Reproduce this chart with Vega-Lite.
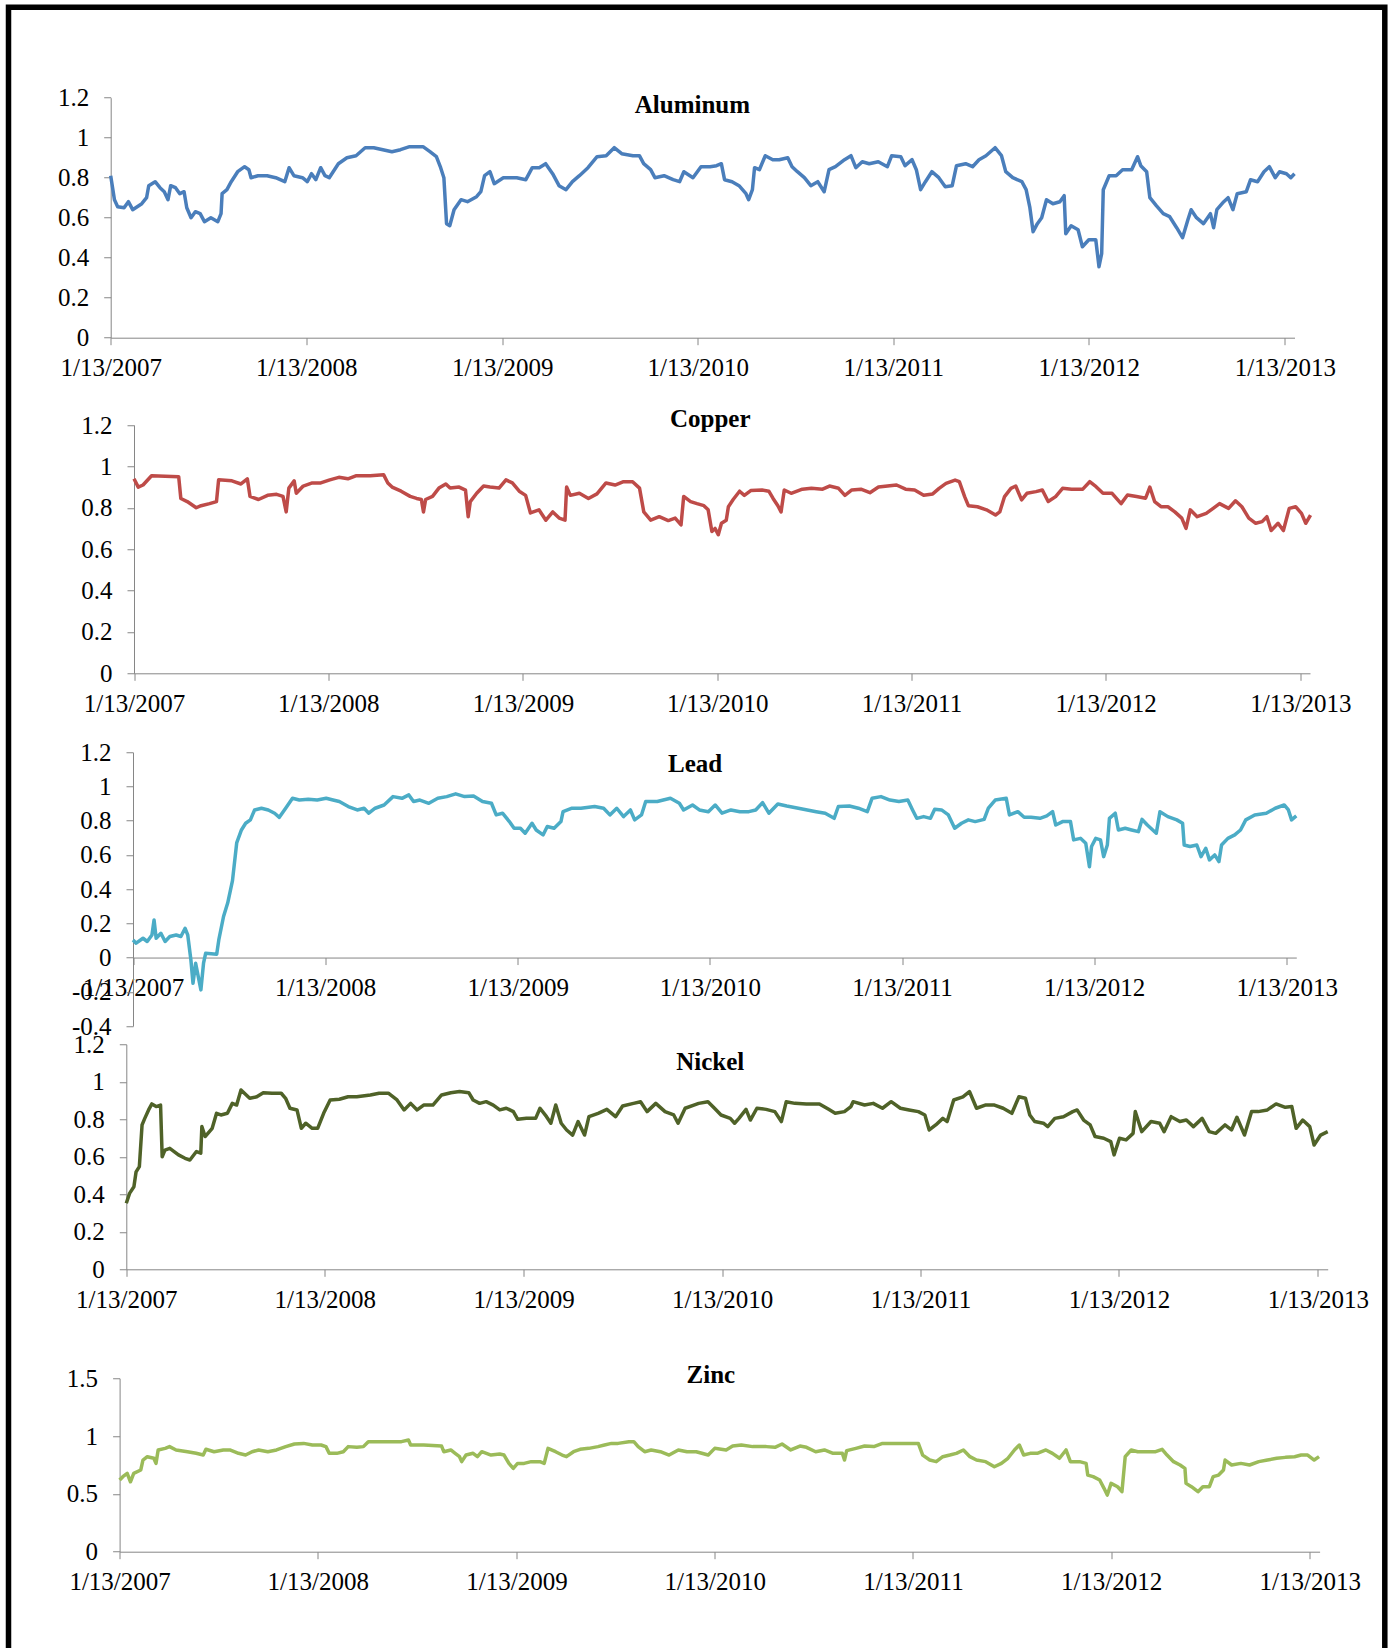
{
  "$schema": "https://vega.github.io/schema/vega-lite/v6.json",
  "autosize": "none",
  "width": 1376.3,
  "height": 1652.75,
  "padding": {"left": 8.5, "top": 7.25, "right": 8.2, "bottom": -12},
  "background": "white",
  "config": {
    "view": {"stroke": "#000000", "strokeWidth": 5.5, "fill": "white"},
    "axis": {"grid": false, "domainColor": "#868686", "domainWidth": 1, "tickColor": "#868686", "tickSize": 7, "tickWidth": 1, "labelFont": "Liberation Serif", "labelFontSize": 25, "labelColor": "#000000", "labelOverlap": false},
    "axisX": {"labelPadding": 11, "labelFont": "Liberation Serif", "labelFontSize": 25, "labelFlush": false},
    "axisY": {"labelPadding": 15, "labelFont": "Liberation Serif", "labelFontSize": 25},
    "style": {"guide-label": {"font": "Liberation Serif", "fontSize": 25, "fill": "#000000"}}
  },
  "datasets": {
    "aluminum": [
      {"d":"2007-01-13","v":0.81},{"d":"2007-01-20","v":0.69},{"d":"2007-01-26","v":0.655},{"d":"2007-02-07","v":0.65},{"d":"2007-02-15","v":0.68},{"d":"2007-02-23","v":0.64},{"d":"2007-03-12","v":0.67},{"d":"2007-03-21","v":0.70},{"d":"2007-03-25","v":0.76},{"d":"2007-04-06","v":0.78},{"d":"2007-04-15","v":0.75},{"d":"2007-04-23","v":0.73},{"d":"2007-04-30","v":0.69},{"d":"2007-05-05","v":0.76},{"d":"2007-05-14","v":0.75},{"d":"2007-05-22","v":0.72},{"d":"2007-05-30","v":0.73},{"d":"2007-06-04","v":0.65},{"d":"2007-06-12","v":0.60},{"d":"2007-06-20","v":0.63},{"d":"2007-06-29","v":0.62},{"d":"2007-07-07","v":0.58},{"d":"2007-07-19","v":0.60},{"d":"2007-08-01","v":0.58},{"d":"2007-08-07","v":0.62},{"d":"2007-08-09","v":0.72},{"d":"2007-08-18","v":0.74},{"d":"2007-08-26","v":0.78},{"d":"2007-09-07","v":0.83},{"d":"2007-09-20","v":0.855},{"d":"2007-09-28","v":0.84},{"d":"2007-10-02","v":0.80},{"d":"2007-10-15","v":0.81},{"d":"2007-11-01","v":0.81},{"d":"2007-11-17","v":0.80},{"d":"2007-12-04","v":0.78},{"d":"2007-12-12","v":0.85},{"d":"2007-12-21","v":0.81},{"d":"2008-01-06","v":0.80},{"d":"2008-01-15","v":0.78},{"d":"2008-01-23","v":0.82},{"d":"2008-01-31","v":0.79},{"d":"2008-02-09","v":0.85},{"d":"2008-02-17","v":0.81},{"d":"2008-02-25","v":0.80},{"d":"2008-03-13","v":0.87},{"d":"2008-03-29","v":0.90},{"d":"2008-04-15","v":0.91},{"d":"2008-05-02","v":0.95},{"d":"2008-05-18","v":0.95},{"d":"2008-06-04","v":0.94},{"d":"2008-06-21","v":0.93},{"d":"2008-07-07","v":0.94},{"d":"2008-07-24","v":0.955},{"d":"2008-08-18","v":0.955},{"d":"2008-08-31","v":0.93},{"d":"2008-09-12","v":0.905},{"d":"2008-09-20","v":0.85},{"d":"2008-09-26","v":0.80},{"d":"2008-10-01","v":0.57},{"d":"2008-10-07","v":0.56},{"d":"2008-10-15","v":0.64},{"d":"2008-10-28","v":0.69},{"d":"2008-11-09","v":0.68},{"d":"2008-11-26","v":0.705},{"d":"2008-12-04","v":0.73},{"d":"2008-12-11","v":0.81},{"d":"2008-12-21","v":0.83},{"d":"2008-12-29","v":0.77},{"d":"2009-01-15","v":0.80},{"d":"2009-02-09","v":0.80},{"d":"2009-02-26","v":0.79},{"d":"2009-03-10","v":0.85},{"d":"2009-03-23","v":0.85},{"d":"2009-04-04","v":0.87},{"d":"2009-04-17","v":0.82},{"d":"2009-04-29","v":0.76},{"d":"2009-05-12","v":0.74},{"d":"2009-05-24","v":0.78},{"d":"2009-06-06","v":0.81},{"d":"2009-06-22","v":0.85},{"d":"2009-07-09","v":0.905},{"d":"2009-07-26","v":0.91},{"d":"2009-08-10","v":0.95},{"d":"2009-08-24","v":0.92},{"d":"2009-09-14","v":0.91},{"d":"2009-09-26","v":0.91},{"d":"2009-10-04","v":0.87},{"d":"2009-10-17","v":0.84},{"d":"2009-10-25","v":0.80},{"d":"2009-11-11","v":0.81},{"d":"2009-11-28","v":0.79},{"d":"2009-12-10","v":0.78},{"d":"2009-12-18","v":0.83},{"d":"2010-01-04","v":0.80},{"d":"2010-01-19","v":0.855},{"d":"2010-02-05","v":0.855},{"d":"2010-02-17","v":0.86},{"d":"2010-02-26","v":0.87},{"d":"2010-03-04","v":0.79},{"d":"2010-03-18","v":0.78},{"d":"2010-03-31","v":0.76},{"d":"2010-04-13","v":0.72},{"d":"2010-04-18","v":0.69},{"d":"2010-04-25","v":0.74},{"d":"2010-04-29","v":0.85},{"d":"2010-05-08","v":0.84},{"d":"2010-05-19","v":0.91},{"d":"2010-06-02","v":0.89},{"d":"2010-06-14","v":0.89},{"d":"2010-06-30","v":0.90},{"d":"2010-07-08","v":0.855},{"d":"2010-07-18","v":0.83},{"d":"2010-07-31","v":0.80},{"d":"2010-08-12","v":0.76},{"d":"2010-08-25","v":0.78},{"d":"2010-09-06","v":0.73},{"d":"2010-09-15","v":0.84},{"d":"2010-09-27","v":0.855},{"d":"2010-10-14","v":0.89},{"d":"2010-10-26","v":0.91},{"d":"2010-11-04","v":0.85},{"d":"2010-11-16","v":0.88},{"d":"2010-11-29","v":0.87},{"d":"2010-12-16","v":0.88},{"d":"2011-01-02","v":0.855},{"d":"2011-01-10","v":0.91},{"d":"2011-01-27","v":0.905},{"d":"2011-02-04","v":0.86},{"d":"2011-02-17","v":0.89},{"d":"2011-02-25","v":0.84},{"d":"2011-03-05","v":0.74},{"d":"2011-03-14","v":0.78},{"d":"2011-03-26","v":0.83},{"d":"2011-04-08","v":0.80},{"d":"2011-04-20","v":0.755},{"d":"2011-05-03","v":0.76},{"d":"2011-05-11","v":0.86},{"d":"2011-05-28","v":0.87},{"d":"2011-06-10","v":0.855},{"d":"2011-06-22","v":0.89},{"d":"2011-07-05","v":0.91},{"d":"2011-07-22","v":0.95},{"d":"2011-08-03","v":0.91},{"d":"2011-08-11","v":0.83},{"d":"2011-08-24","v":0.80},{"d":"2011-09-10","v":0.78},{"d":"2011-09-18","v":0.74},{"d":"2011-09-25","v":0.65},{"d":"2011-10-01","v":0.53},{"d":"2011-10-09","v":0.57},{"d":"2011-10-17","v":0.60},{"d":"2011-10-26","v":0.69},{"d":"2011-11-07","v":0.67},{"d":"2011-11-20","v":0.68},{"d":"2011-11-28","v":0.71},{"d":"2011-12-01","v":0.52},{"d":"2011-12-11","v":0.56},{"d":"2011-12-24","v":0.54},{"d":"2012-01-01","v":0.455},{"d":"2012-01-13","v":0.49},{"d":"2012-01-26","v":0.49},{"d":"2012-02-01","v":0.355},{"d":"2012-02-06","v":0.42},{"d":"2012-02-09","v":0.74},{"d":"2012-02-20","v":0.81},{"d":"2012-03-04","v":0.81},{"d":"2012-03-16","v":0.84},{"d":"2012-04-02","v":0.84},{"d":"2012-04-13","v":0.905},{"d":"2012-04-19","v":0.86},{"d":"2012-04-30","v":0.83},{"d":"2012-05-06","v":0.70},{"d":"2012-05-18","v":0.66},{"d":"2012-05-31","v":0.62},{"d":"2012-06-12","v":0.605},{"d":"2012-06-25","v":0.55},{"d":"2012-07-06","v":0.50},{"d":"2012-07-16","v":0.59},{"d":"2012-07-22","v":0.64},{"d":"2012-08-01","v":0.60},{"d":"2012-08-14","v":0.57},{"d":"2012-08-27","v":0.62},{"d":"2012-09-02","v":0.55},{"d":"2012-09-08","v":0.64},{"d":"2012-09-21","v":0.68},{"d":"2012-09-29","v":0.70},{"d":"2012-10-08","v":0.64},{"d":"2012-10-16","v":0.72},{"d":"2012-11-02","v":0.73},{"d":"2012-11-10","v":0.79},{"d":"2012-11-23","v":0.78},{"d":"2012-12-05","v":0.83},{"d":"2012-12-15","v":0.855},{"d":"2012-12-26","v":0.80},{"d":"2013-01-03","v":0.83},{"d":"2013-01-16","v":0.82},{"d":"2013-01-24","v":0.80},{"d":"2013-01-31","v":0.82}
    ],
    "copper": [
      {"d":"2007-01-13","v":0.94},{"d":"2007-01-21","v":0.90},{"d":"2007-01-30","v":0.91},{"d":"2007-02-15","v":0.955},{"d":"2007-04-07","v":0.95},{"d":"2007-04-11","v":0.845},{"d":"2007-04-23","v":0.83},{"d":"2007-05-10","v":0.80},{"d":"2007-05-19","v":0.81},{"d":"2007-06-04","v":0.82},{"d":"2007-06-17","v":0.83},{"d":"2007-06-21","v":0.935},{"d":"2007-07-16","v":0.93},{"d":"2007-08-02","v":0.915},{"d":"2007-08-14","v":0.94},{"d":"2007-08-19","v":0.855},{"d":"2007-09-04","v":0.84},{"d":"2007-09-21","v":0.86},{"d":"2007-10-08","v":0.865},{"d":"2007-10-20","v":0.855},{"d":"2007-10-26","v":0.78},{"d":"2007-10-31","v":0.895},{"d":"2007-11-10","v":0.93},{"d":"2007-11-14","v":0.87},{"d":"2007-11-27","v":0.905},{"d":"2007-12-14","v":0.92},{"d":"2007-12-30","v":0.92},{"d":"2008-01-16","v":0.935},{"d":"2008-02-02","v":0.947},{"d":"2008-02-19","v":0.94},{"d":"2008-03-06","v":0.955},{"d":"2008-04-01","v":0.955},{"d":"2008-04-26","v":0.96},{"d":"2008-05-04","v":0.92},{"d":"2008-05-12","v":0.90},{"d":"2008-05-29","v":0.88},{"d":"2008-06-15","v":0.855},{"d":"2008-06-27","v":0.845},{"d":"2008-07-06","v":0.84},{"d":"2008-07-10","v":0.78},{"d":"2008-07-14","v":0.84},{"d":"2008-07-27","v":0.855},{"d":"2008-08-08","v":0.895},{"d":"2008-08-21","v":0.915},{"d":"2008-08-29","v":0.895},{"d":"2008-09-15","v":0.90},{"d":"2008-09-27","v":0.885},{"d":"2008-10-02","v":0.757},{"d":"2008-10-06","v":0.83},{"d":"2008-10-18","v":0.87},{"d":"2008-10-31","v":0.905},{"d":"2008-11-12","v":0.90},{"d":"2008-11-29","v":0.895},{"d":"2008-12-12","v":0.935},{"d":"2008-12-24","v":0.92},{"d":"2009-01-06","v":0.88},{"d":"2009-01-18","v":0.86},{"d":"2009-01-27","v":0.775},{"d":"2009-02-12","v":0.79},{"d":"2009-02-25","v":0.74},{"d":"2009-03-10","v":0.78},{"d":"2009-03-22","v":0.75},{"d":"2009-04-02","v":0.74},{"d":"2009-04-05","v":0.90},{"d":"2009-04-12","v":0.86},{"d":"2009-04-29","v":0.87},{"d":"2009-05-16","v":0.845},{"d":"2009-06-01","v":0.867},{"d":"2009-06-18","v":0.92},{"d":"2009-07-05","v":0.91},{"d":"2009-07-21","v":0.926},{"d":"2009-08-07","v":0.926},{"d":"2009-08-20","v":0.895},{"d":"2009-08-28","v":0.78},{"d":"2009-09-10","v":0.74},{"d":"2009-09-26","v":0.757},{"d":"2009-10-13","v":0.738},{"d":"2009-10-26","v":0.75},{"d":"2009-11-06","v":0.717},{"d":"2009-11-11","v":0.855},{"d":"2009-11-24","v":0.83},{"d":"2009-12-06","v":0.82},{"d":"2009-12-19","v":0.81},{"d":"2009-12-27","v":0.79},{"d":"2010-01-03","v":0.685},{"d":"2010-01-09","v":0.70},{"d":"2010-01-15","v":0.67},{"d":"2010-01-21","v":0.725},{"d":"2010-01-30","v":0.74},{"d":"2010-02-03","v":0.805},{"d":"2010-02-12","v":0.84},{"d":"2010-02-24","v":0.88},{"d":"2010-03-05","v":0.86},{"d":"2010-03-17","v":0.883},{"d":"2010-04-07","v":0.886},{"d":"2010-04-20","v":0.88},{"d":"2010-04-28","v":0.845},{"d":"2010-05-07","v":0.81},{"d":"2010-05-13","v":0.78},{"d":"2010-05-19","v":0.886},{"d":"2010-06-01","v":0.87},{"d":"2010-06-22","v":0.89},{"d":"2010-07-09","v":0.894},{"d":"2010-07-30","v":0.89},{"d":"2010-08-12","v":0.905},{"d":"2010-08-29","v":0.894},{"d":"2010-09-10","v":0.86},{"d":"2010-09-23","v":0.886},{"d":"2010-10-10","v":0.89},{"d":"2010-10-27","v":0.873},{"d":"2010-11-12","v":0.90},{"d":"2010-11-29","v":0.905},{"d":"2010-12-16","v":0.91},{"d":"2011-01-02","v":0.89},{"d":"2011-01-19","v":0.886},{"d":"2011-02-05","v":0.86},{"d":"2011-02-22","v":0.867},{"d":"2011-03-06","v":0.894},{"d":"2011-03-19","v":0.918},{"d":"2011-04-05","v":0.934},{"d":"2011-04-13","v":0.926},{"d":"2011-04-23","v":0.854},{"d":"2011-04-30","v":0.81},{"d":"2011-05-17","v":0.805},{"d":"2011-06-03","v":0.79},{"d":"2011-06-20","v":0.765},{"d":"2011-06-28","v":0.78},{"d":"2011-07-07","v":0.854},{"d":"2011-07-19","v":0.894},{"d":"2011-07-28","v":0.905},{"d":"2011-08-08","v":0.838},{"d":"2011-08-18","v":0.87},{"d":"2011-09-04","v":0.878},{"d":"2011-09-16","v":0.886},{"d":"2011-09-27","v":0.83},{"d":"2011-10-11","v":0.854},{"d":"2011-10-24","v":0.894},{"d":"2011-11-10","v":0.89},{"d":"2011-12-01","v":0.89},{"d":"2011-12-14","v":0.926},{"d":"2011-12-26","v":0.902},{"d":"2012-01-08","v":0.87},{"d":"2012-01-25","v":0.87},{"d":"2012-02-11","v":0.82},{"d":"2012-02-23","v":0.862},{"d":"2012-03-11","v":0.854},{"d":"2012-03-28","v":0.846},{"d":"2012-04-05","v":0.90},{"d":"2012-04-14","v":0.83},{"d":"2012-04-26","v":0.805},{"d":"2012-05-09","v":0.805},{"d":"2012-05-22","v":0.78},{"d":"2012-06-04","v":0.75},{"d":"2012-06-12","v":0.70},{"d":"2012-06-20","v":0.79},{"d":"2012-07-03","v":0.757},{"d":"2012-07-20","v":0.773},{"d":"2012-08-02","v":0.797},{"d":"2012-08-14","v":0.82},{"d":"2012-08-31","v":0.797},{"d":"2012-09-13","v":0.834},{"d":"2012-09-25","v":0.805},{"d":"2012-10-08","v":0.75},{"d":"2012-10-21","v":0.725},{"d":"2012-11-02","v":0.733},{"d":"2012-11-11","v":0.757},{"d":"2012-11-19","v":0.69},{"d":"2012-12-02","v":0.725},{"d":"2012-12-12","v":0.69},{"d":"2012-12-23","v":0.797},{"d":"2013-01-04","v":0.805},{"d":"2013-01-15","v":0.773},{"d":"2013-01-23","v":0.725},{"d":"2013-02-01","v":0.765}
    ],
    "lead": [
      {"d":"2007-01-13","v":0.103},{"d":"2007-01-19","v":0.084},{"d":"2007-02-01","v":0.113},{"d":"2007-02-09","v":0.094},{"d":"2007-02-18","v":0.132},{"d":"2007-02-22","v":0.22},{"d":"2007-02-26","v":0.113},{"d":"2007-03-07","v":0.142},{"d":"2007-03-15","v":0.094},{"d":"2007-03-24","v":0.123},{"d":"2007-04-05","v":0.132},{"d":"2007-04-14","v":0.123},{"d":"2007-04-22","v":0.171},{"d":"2007-04-27","v":0.132},{"d":"2007-05-03","v":-0.014},{"d":"2007-05-07","v":-0.15},{"d":"2007-05-12","v":-0.033},{"d":"2007-05-17","v":-0.111},{"d":"2007-05-22","v":-0.189},{"d":"2007-05-27","v":-0.033},{"d":"2007-05-31","v":0.025},{"d":"2007-06-21","v":0.02},{"d":"2007-06-25","v":0.103},{"d":"2007-07-04","v":0.24},{"d":"2007-07-12","v":0.32},{"d":"2007-07-21","v":0.45},{"d":"2007-07-29","v":0.67},{"d":"2007-08-07","v":0.746},{"d":"2007-08-15","v":0.785},{"d":"2007-08-24","v":0.805},{"d":"2007-09-01","v":0.863},{"d":"2007-09-14","v":0.873},{"d":"2007-09-27","v":0.863},{"d":"2007-10-09","v":0.844},{"d":"2007-10-18","v":0.82},{"d":"2007-10-30","v":0.873},{"d":"2007-11-12","v":0.931},{"d":"2007-11-25","v":0.921},{"d":"2007-12-12","v":0.925},{"d":"2007-12-29","v":0.921},{"d":"2008-01-15","v":0.931},{"d":"2008-01-28","v":0.921},{"d":"2008-02-09","v":0.912},{"d":"2008-02-26","v":0.883},{"d":"2008-03-14","v":0.863},{"d":"2008-03-27","v":0.873},{"d":"2008-04-05","v":0.844},{"d":"2008-04-17","v":0.873},{"d":"2008-05-04","v":0.892},{"d":"2008-05-21","v":0.941},{"d":"2008-06-07","v":0.931},{"d":"2008-06-20","v":0.951},{"d":"2008-06-29","v":0.912},{"d":"2008-07-11","v":0.921},{"d":"2008-07-28","v":0.902},{"d":"2008-08-14","v":0.931},{"d":"2008-08-31","v":0.941},{"d":"2008-09-17","v":0.957},{"d":"2008-10-04","v":0.941},{"d":"2008-10-21","v":0.945},{"d":"2008-11-07","v":0.912},{"d":"2008-11-24","v":0.902},{"d":"2008-12-03","v":0.834},{"d":"2008-12-15","v":0.844},{"d":"2008-12-28","v":0.795},{"d":"2009-01-06","v":0.756},{"d":"2009-01-18","v":0.756},{"d":"2009-01-27","v":0.727},{"d":"2009-02-09","v":0.785},{"d":"2009-02-17","v":0.746},{"d":"2009-03-02","v":0.717},{"d":"2009-03-10","v":0.766},{"d":"2009-03-23","v":0.756},{"d":"2009-04-05","v":0.795},{"d":"2009-04-09","v":0.853},{"d":"2009-04-26","v":0.873},{"d":"2009-05-13","v":0.873},{"d":"2009-06-08","v":0.883},{"d":"2009-06-25","v":0.873},{"d":"2009-07-07","v":0.834},{"d":"2009-07-20","v":0.873},{"d":"2009-08-02","v":0.824},{"d":"2009-08-15","v":0.863},{"d":"2009-08-23","v":0.805},{"d":"2009-09-05","v":0.834},{"d":"2009-09-13","v":0.912},{"d":"2009-10-05","v":0.912},{"d":"2009-10-30","v":0.931},{"d":"2009-11-16","v":0.902},{"d":"2009-11-24","v":0.863},{"d":"2009-12-11","v":0.892},{"d":"2009-12-24","v":0.863},{"d":"2010-01-10","v":0.853},{"d":"2010-01-23","v":0.892},{"d":"2010-02-05","v":0.844},{"d":"2010-02-22","v":0.863},{"d":"2010-03-11","v":0.853},{"d":"2010-03-28","v":0.853},{"d":"2010-04-10","v":0.863},{"d":"2010-04-23","v":0.906},{"d":"2010-05-05","v":0.844},{"d":"2010-05-22","v":0.898},{"d":"2010-06-08","v":0.886},{"d":"2010-06-30","v":0.873},{"d":"2010-07-17","v":0.863},{"d":"2010-08-03","v":0.853},{"d":"2010-08-20","v":0.844},{"d":"2010-09-06","v":0.814},{"d":"2010-09-14","v":0.883},{"d":"2010-10-05","v":0.886},{"d":"2010-10-22","v":0.873},{"d":"2010-11-08","v":0.853},{"d":"2010-11-17","v":0.931},{"d":"2010-12-04","v":0.941},{"d":"2010-12-21","v":0.921},{"d":"2011-01-07","v":0.912},{"d":"2011-01-24","v":0.921},{"d":"2011-02-02","v":0.863},{"d":"2011-02-10","v":0.814},{"d":"2011-02-23","v":0.824},{"d":"2011-03-08","v":0.814},{"d":"2011-03-16","v":0.867},{"d":"2011-03-29","v":0.863},{"d":"2011-04-11","v":0.834},{"d":"2011-04-23","v":0.756},{"d":"2011-05-06","v":0.785},{"d":"2011-05-19","v":0.805},{"d":"2011-06-01","v":0.795},{"d":"2011-06-18","v":0.808},{"d":"2011-06-26","v":0.873},{"d":"2011-07-09","v":0.921},{"d":"2011-07-30","v":0.931},{"d":"2011-08-05","v":0.834},{"d":"2011-08-21","v":0.853},{"d":"2011-09-02","v":0.82},{"d":"2011-09-15","v":0.82},{"d":"2011-10-02","v":0.814},{"d":"2011-10-15","v":0.828},{"d":"2011-10-26","v":0.853},{"d":"2011-11-01","v":0.775},{"d":"2011-11-14","v":0.795},{"d":"2011-11-29","v":0.795},{"d":"2011-12-05","v":0.688},{"d":"2011-12-18","v":0.697},{"d":"2011-12-28","v":0.668},{"d":"2012-01-04","v":0.531},{"d":"2012-01-08","v":0.649},{"d":"2012-01-16","v":0.697},{"d":"2012-01-25","v":0.688},{"d":"2012-01-31","v":0.59},{"d":"2012-02-07","v":0.658},{"d":"2012-02-11","v":0.814},{"d":"2012-02-22","v":0.844},{"d":"2012-02-28","v":0.746},{"d":"2012-03-12","v":0.756},{"d":"2012-03-24","v":0.746},{"d":"2012-04-06","v":0.736},{"d":"2012-04-13","v":0.808},{"d":"2012-04-23","v":0.775},{"d":"2012-05-10","v":0.727},{"d":"2012-05-17","v":0.853},{"d":"2012-06-01","v":0.824},{"d":"2012-06-18","v":0.805},{"d":"2012-06-29","v":0.785},{"d":"2012-07-02","v":0.658},{"d":"2012-07-13","v":0.649},{"d":"2012-07-26","v":0.658},{"d":"2012-08-03","v":0.59},{"d":"2012-08-12","v":0.639},{"d":"2012-08-19","v":0.571},{"d":"2012-08-29","v":0.60},{"d":"2012-09-06","v":0.561},{"d":"2012-09-11","v":0.658},{"d":"2012-09-23","v":0.697},{"d":"2012-10-06","v":0.717},{"d":"2012-10-17","v":0.746},{"d":"2012-10-27","v":0.805},{"d":"2012-11-13","v":0.834},{"d":"2012-12-05","v":0.844},{"d":"2012-12-22","v":0.873},{"d":"2013-01-08","v":0.892},{"d":"2013-01-16","v":0.863},{"d":"2013-01-22","v":0.805},{"d":"2013-01-31","v":0.828}
    ],
    "nickel": [
      {"d":"2007-01-13","v":0.352},{"d":"2007-01-19","v":0.405},{"d":"2007-01-27","v":0.44},{"d":"2007-01-31","v":0.52},{"d":"2007-02-06","v":0.548},{"d":"2007-02-11","v":0.77},{"d":"2007-02-16","v":0.805},{"d":"2007-02-23","v":0.85},{"d":"2007-03-01","v":0.882},{"d":"2007-03-09","v":0.868},{"d":"2007-03-17","v":0.876},{"d":"2007-03-20","v":0.60},{"d":"2007-03-25","v":0.636},{"d":"2007-04-03","v":0.645},{"d":"2007-04-11","v":0.628},{"d":"2007-04-19","v":0.61},{"d":"2007-05-01","v":0.592},{"d":"2007-05-10","v":0.583},{"d":"2007-05-22","v":0.628},{"d":"2007-05-30","v":0.619},{"d":"2007-06-01","v":0.761},{"d":"2007-06-07","v":0.708},{"d":"2007-06-20","v":0.752},{"d":"2007-06-28","v":0.832},{"d":"2007-07-06","v":0.823},{"d":"2007-07-18","v":0.832},{"d":"2007-07-27","v":0.885},{"d":"2007-08-04","v":0.876},{"d":"2007-08-12","v":0.956},{"d":"2007-08-28","v":0.912},{"d":"2007-09-10","v":0.92},{"d":"2007-09-22","v":0.942},{"d":"2007-10-08","v":0.939},{"d":"2007-10-25","v":0.939},{"d":"2007-11-02","v":0.912},{"d":"2007-11-10","v":0.859},{"d":"2007-11-23","v":0.85},{"d":"2007-12-01","v":0.752},{"d":"2007-12-09","v":0.779},{"d":"2007-12-21","v":0.752},{"d":"2007-12-31","v":0.752},{"d":"2008-01-11","v":0.832},{"d":"2008-01-23","v":0.903},{"d":"2008-02-09","v":0.907},{"d":"2008-02-25","v":0.92},{"d":"2008-03-12","v":0.92},{"d":"2008-04-06","v":0.93},{"d":"2008-04-22","v":0.939},{"d":"2008-05-09","v":0.939},{"d":"2008-05-25","v":0.903},{"d":"2008-06-07","v":0.85},{"d":"2008-06-19","v":0.885},{"d":"2008-07-01","v":0.85},{"d":"2008-07-13","v":0.876},{"d":"2008-07-30","v":0.876},{"d":"2008-08-15","v":0.93},{"d":"2008-09-01","v":0.942},{"d":"2008-09-17","v":0.948},{"d":"2008-10-04","v":0.942},{"d":"2008-10-12","v":0.903},{"d":"2008-10-24","v":0.885},{"d":"2008-11-05","v":0.894},{"d":"2008-11-18","v":0.876},{"d":"2008-11-30","v":0.85},{"d":"2008-12-12","v":0.859},{"d":"2008-12-25","v":0.841},{"d":"2009-01-02","v":0.80},{"d":"2009-01-18","v":0.805},{"d":"2009-02-04","v":0.805},{"d":"2009-02-12","v":0.859},{"d":"2009-02-24","v":0.814},{"d":"2009-03-04","v":0.779},{"d":"2009-03-13","v":0.876},{"d":"2009-03-23","v":0.779},{"d":"2009-04-02","v":0.743},{"d":"2009-04-13","v":0.716},{"d":"2009-04-23","v":0.788},{"d":"2009-05-05","v":0.716},{"d":"2009-05-13","v":0.814},{"d":"2009-05-30","v":0.832},{"d":"2009-06-15","v":0.853},{"d":"2009-07-01","v":0.814},{"d":"2009-07-14","v":0.871},{"d":"2009-08-03","v":0.885},{"d":"2009-08-16","v":0.894},{"d":"2009-08-28","v":0.841},{"d":"2009-09-13","v":0.885},{"d":"2009-09-30","v":0.841},{"d":"2009-10-16","v":0.823},{"d":"2009-10-24","v":0.779},{"d":"2009-11-06","v":0.859},{"d":"2009-11-22","v":0.876},{"d":"2009-12-01","v":0.885},{"d":"2009-12-18","v":0.894},{"d":"2009-12-30","v":0.859},{"d":"2010-01-11","v":0.823},{"d":"2010-01-28","v":0.805},{"d":"2010-02-05","v":0.779},{"d":"2010-02-13","v":0.805},{"d":"2010-02-26","v":0.853},{"d":"2010-03-06","v":0.796},{"d":"2010-03-18","v":0.859},{"d":"2010-04-04","v":0.853},{"d":"2010-04-20","v":0.841},{"d":"2010-05-02","v":0.788},{"d":"2010-05-11","v":0.894},{"d":"2010-05-27","v":0.885},{"d":"2010-06-17","v":0.882},{"d":"2010-07-11","v":0.882},{"d":"2010-07-28","v":0.853},{"d":"2010-08-09","v":0.832},{"d":"2010-08-26","v":0.841},{"d":"2010-09-07","v":0.868},{"d":"2010-09-11","v":0.894},{"d":"2010-10-02","v":0.876},{"d":"2010-10-18","v":0.885},{"d":"2010-11-04","v":0.859},{"d":"2010-11-20","v":0.894},{"d":"2010-12-07","v":0.859},{"d":"2010-12-23","v":0.85},{"d":"2011-01-09","v":0.841},{"d":"2011-01-21","v":0.823},{"d":"2011-01-29","v":0.743},{"d":"2011-02-10","v":0.77},{"d":"2011-02-23","v":0.805},{"d":"2011-03-03","v":0.788},{"d":"2011-03-15","v":0.903},{"d":"2011-04-01","v":0.92},{"d":"2011-04-13","v":0.948},{"d":"2011-04-26","v":0.859},{"d":"2011-05-12","v":0.876},{"d":"2011-05-29","v":0.876},{"d":"2011-06-14","v":0.859},{"d":"2011-06-30","v":0.832},{"d":"2011-07-13","v":0.92},{"d":"2011-07-25","v":0.912},{"d":"2011-08-02","v":0.823},{"d":"2011-08-11","v":0.788},{"d":"2011-08-27","v":0.779},{"d":"2011-09-04","v":0.761},{"d":"2011-09-17","v":0.805},{"d":"2011-10-03","v":0.814},{"d":"2011-10-20","v":0.841},{"d":"2011-10-28","v":0.85},{"d":"2011-11-09","v":0.796},{"d":"2011-11-21","v":0.77},{"d":"2011-11-30","v":0.708},{"d":"2011-12-16","v":0.699},{"d":"2011-12-29","v":0.681},{"d":"2012-01-04","v":0.61},{"d":"2012-01-14","v":0.699},{"d":"2012-01-26","v":0.69},{"d":"2012-02-08","v":0.725},{"d":"2012-02-12","v":0.841},{"d":"2012-02-24","v":0.734},{"d":"2012-03-12","v":0.788},{"d":"2012-03-28","v":0.779},{"d":"2012-04-05","v":0.734},{"d":"2012-04-18","v":0.814},{"d":"2012-05-04","v":0.788},{"d":"2012-05-16","v":0.796},{"d":"2012-05-29","v":0.761},{"d":"2012-06-14","v":0.805},{"d":"2012-06-27","v":0.734},{"d":"2012-07-09","v":0.725},{"d":"2012-07-26","v":0.77},{"d":"2012-08-07","v":0.743},{"d":"2012-08-17","v":0.811},{"d":"2012-08-31","v":0.716},{"d":"2012-09-13","v":0.841},{"d":"2012-09-25","v":0.841},{"d":"2012-10-12","v":0.85},{"d":"2012-10-28","v":0.882},{"d":"2012-11-14","v":0.864},{"d":"2012-11-26","v":0.868},{"d":"2012-12-04","v":0.752},{"d":"2012-12-16","v":0.796},{"d":"2012-12-29","v":0.761},{"d":"2013-01-06","v":0.663},{"d":"2013-01-18","v":0.716},{"d":"2013-01-31","v":0.734}
    ],
    "zinc": [
      {"d":"2007-01-13","v":0.62},{"d":"2007-01-19","v":0.649},{"d":"2007-01-27","v":0.678},{"d":"2007-02-02","v":0.605},{"d":"2007-02-08","v":0.678},{"d":"2007-02-21","v":0.707},{"d":"2007-02-25","v":0.793},{"d":"2007-03-05","v":0.822},{"d":"2007-03-17","v":0.808},{"d":"2007-03-21","v":0.764},{"d":"2007-03-25","v":0.88},{"d":"2007-04-07","v":0.894},{"d":"2007-04-15","v":0.909},{"d":"2007-04-27","v":0.88},{"d":"2007-05-18","v":0.865},{"d":"2007-06-03","v":0.851},{"d":"2007-06-16","v":0.836},{"d":"2007-06-21","v":0.886},{"d":"2007-07-06","v":0.865},{"d":"2007-07-23","v":0.88},{"d":"2007-08-04","v":0.88},{"d":"2007-08-20","v":0.851},{"d":"2007-09-02","v":0.836},{"d":"2007-09-14","v":0.865},{"d":"2007-09-26","v":0.88},{"d":"2007-10-13","v":0.865},{"d":"2007-10-29","v":0.88},{"d":"2007-11-15","v":0.909},{"d":"2007-12-01","v":0.932},{"d":"2007-12-18","v":0.937},{"d":"2008-01-03","v":0.923},{"d":"2008-01-19","v":0.923},{"d":"2008-01-28","v":0.909},{"d":"2008-02-03","v":0.851},{"d":"2008-02-17","v":0.851},{"d":"2008-02-29","v":0.865},{"d":"2008-03-09","v":0.909},{"d":"2008-03-25","v":0.903},{"d":"2008-04-06","v":0.909},{"d":"2008-04-15","v":0.952},{"d":"2008-05-05","v":0.952},{"d":"2008-05-30","v":0.952},{"d":"2008-06-15","v":0.952},{"d":"2008-06-28","v":0.966},{"d":"2008-07-02","v":0.923},{"d":"2008-07-26","v":0.923},{"d":"2008-08-28","v":0.914},{"d":"2008-09-01","v":0.865},{"d":"2008-09-14","v":0.88},{"d":"2008-09-22","v":0.851},{"d":"2008-09-30","v":0.822},{"d":"2008-10-04","v":0.779},{"d":"2008-10-12","v":0.836},{"d":"2008-10-25","v":0.851},{"d":"2008-11-02","v":0.822},{"d":"2008-11-10","v":0.865},{"d":"2008-11-27","v":0.836},{"d":"2008-12-13","v":0.845},{"d":"2008-12-21","v":0.836},{"d":"2008-12-30","v":0.764},{"d":"2009-01-07","v":0.721},{"d":"2009-01-15","v":0.764},{"d":"2009-01-27","v":0.764},{"d":"2009-02-09","v":0.779},{"d":"2009-02-25","v":0.779},{"d":"2009-03-05","v":0.764},{"d":"2009-03-12","v":0.894},{"d":"2009-03-26","v":0.865},{"d":"2009-04-07","v":0.836},{"d":"2009-04-15","v":0.822},{"d":"2009-04-28","v":0.865},{"d":"2009-05-10","v":0.886},{"d":"2009-05-26","v":0.894},{"d":"2009-06-12","v":0.909},{"d":"2009-06-24","v":0.923},{"d":"2009-07-07","v":0.937},{"d":"2009-07-19","v":0.937},{"d":"2009-08-08","v":0.952},{"d":"2009-08-17","v":0.952},{"d":"2009-08-25","v":0.909},{"d":"2009-09-06","v":0.865},{"d":"2009-09-18","v":0.88},{"d":"2009-10-05","v":0.865},{"d":"2009-10-21","v":0.836},{"d":"2009-11-07","v":0.88},{"d":"2009-11-23","v":0.865},{"d":"2009-12-10","v":0.865},{"d":"2010-01-01","v":0.836},{"d":"2010-01-13","v":0.894},{"d":"2010-02-03","v":0.88},{"d":"2010-02-15","v":0.914},{"d":"2010-03-03","v":0.923},{"d":"2010-03-24","v":0.909},{"d":"2010-04-18","v":0.909},{"d":"2010-05-04","v":0.903},{"d":"2010-05-17","v":0.932},{"d":"2010-06-02","v":0.88},{"d":"2010-06-19","v":0.914},{"d":"2010-07-01","v":0.903},{"d":"2010-07-18","v":0.865},{"d":"2010-08-03","v":0.88},{"d":"2010-08-19","v":0.851},{"d":"2010-09-05","v":0.851},{"d":"2010-09-09","v":0.793},{"d":"2010-09-13","v":0.874},{"d":"2010-09-30","v":0.894},{"d":"2010-10-16","v":0.914},{"d":"2010-11-02","v":0.909},{"d":"2010-11-18","v":0.937},{"d":"2010-12-05","v":0.937},{"d":"2010-12-21","v":0.937},{"d":"2011-01-07","v":0.937},{"d":"2011-01-23","v":0.937},{"d":"2011-01-31","v":0.836},{"d":"2011-02-13","v":0.793},{"d":"2011-02-25","v":0.779},{"d":"2011-03-09","v":0.822},{"d":"2011-03-22","v":0.836},{"d":"2011-04-03","v":0.851},{"d":"2011-04-16","v":0.88},{"d":"2011-04-28","v":0.822},{"d":"2011-05-10","v":0.793},{"d":"2011-05-27","v":0.779},{"d":"2011-06-12","v":0.735},{"d":"2011-06-25","v":0.764},{"d":"2011-07-07","v":0.808},{"d":"2011-07-19","v":0.88},{"d":"2011-07-28","v":0.923},{"d":"2011-08-05","v":0.836},{"d":"2011-08-17","v":0.851},{"d":"2011-08-30","v":0.851},{"d":"2011-09-15","v":0.88},{"d":"2011-09-27","v":0.851},{"d":"2011-10-10","v":0.808},{"d":"2011-10-22","v":0.88},{"d":"2011-10-30","v":0.779},{"d":"2011-11-16","v":0.779},{"d":"2011-11-28","v":0.764},{"d":"2011-12-01","v":0.663},{"d":"2011-12-11","v":0.649},{"d":"2011-12-23","v":0.62},{"d":"2011-12-31","v":0.548},{"d":"2012-01-06","v":0.49},{"d":"2012-01-13","v":0.591},{"d":"2012-01-25","v":0.562},{"d":"2012-02-02","v":0.519},{"d":"2012-02-08","v":0.822},{"d":"2012-02-19","v":0.88},{"d":"2012-03-02","v":0.865},{"d":"2012-03-19","v":0.865},{"d":"2012-04-04","v":0.865},{"d":"2012-04-16","v":0.886},{"d":"2012-04-25","v":0.836},{"d":"2012-05-07","v":0.779},{"d":"2012-05-19","v":0.75},{"d":"2012-05-28","v":0.721},{"d":"2012-05-30","v":0.591},{"d":"2012-06-09","v":0.562},{"d":"2012-06-21","v":0.519},{"d":"2012-06-30","v":0.562},{"d":"2012-07-12","v":0.562},{"d":"2012-07-19","v":0.649},{"d":"2012-07-29","v":0.663},{"d":"2012-08-07","v":0.707},{"d":"2012-08-10","v":0.793},{"d":"2012-08-22","v":0.75},{"d":"2012-09-08","v":0.764},{"d":"2012-09-24","v":0.75},{"d":"2012-10-11","v":0.779},{"d":"2012-10-27","v":0.793},{"d":"2012-11-13","v":0.808},{"d":"2012-11-29","v":0.816},{"d":"2012-12-16","v":0.822},{"d":"2012-12-28","v":0.836},{"d":"2013-01-09","v":0.836},{"d":"2013-01-21","v":0.793},{"d":"2013-01-30","v":0.822}
    ]
  },
  "layer": [
    {
      "layer": [
        {
          "data": {"name": "aluminum"},
          "mark": {"type": "line", "color": "#4A7EBB", "strokeWidth": 3.5, "strokeJoin": "round"},
          "encoding": {
            "x": {"field": "d", "type": "temporal",
              "scale": {"type": "utc", "domain": [{"year": 2007, "month": 1, "date": 13, "utc": true}, {"year": 2013, "month": 1, "date": 31, "utc": true}], "range": [102.2, 1286.0], "nice": false},
              "axis": {"orient": "bottom", "offset": -1322.3, "title": null, "labelFlush": false, "labelFont": "Liberation Serif", "labelFontSize": 25, "labelExpr": "utcFormat(datum.value, '%-m/%-d/%Y')",
                "values": [{"year": 2007, "month": 1, "date": 13, "utc": true}, {"year": 2008, "month": 1, "date": 13, "utc": true}, {"year": 2009, "month": 1, "date": 13, "utc": true}, {"year": 2010, "month": 1, "date": 13, "utc": true}, {"year": 2011, "month": 1, "date": 13, "utc": true}, {"year": 2012, "month": 1, "date": 13, "utc": true}, {"year": 2013, "month": 1, "date": 13, "utc": true}]}},
            "y": {"field": "v", "type": "quantitative",
              "scale": {"domain": [0, 1.2], "range": [330.45, 90.45], "nice": false, "zero": false},
              "axis": {"orient": "left", "offset": -102.2, "title": null, "labelFont": "Liberation Serif", "labelFontSize": 25, "values": [0, 0.2, 0.4, 0.6, 0.8, 1, 1.2], "labelExpr": "datum.value < 0 ? '-' + format(-datum.value, '~g') : format(datum.value, '~g')"}}
          }
        },
        {
          "data": {"values": [{"name": "Aluminum"}]},
          "mark": {"type": "text", "font": "Liberation Serif", "fontSize": 25, "fontWeight": "bold", "align": "center", "baseline": "alphabetic", "color": "#000000"},
          "encoding": {
            "x": {"datum": {"year": 2010, "month": 1, "date": 3, "utc": true}, "type": "temporal"},
            "y": {"datum": 1.1235, "type": "quantitative"},
            "text": {"field": "name"}
          }
        }
      ]
    },
    {
      "layer": [
        {
          "data": {"name": "copper"},
          "mark": {"type": "line", "color": "#BE4B48", "strokeWidth": 3.5, "strokeJoin": "round"},
          "encoding": {
            "x": {"field": "d", "type": "temporal",
              "scale": {"type": "utc", "domain": [{"year": 2007, "month": 1, "date": 13, "utc": true}, {"year": 2013, "month": 1, "date": 31, "utc": true}], "range": [125.5, 1301.5], "nice": false},
              "axis": {"orient": "bottom", "offset": -986.7, "title": null, "labelFlush": false, "labelFont": "Liberation Serif", "labelFontSize": 25, "labelExpr": "utcFormat(datum.value, '%-m/%-d/%Y')",
                "values": [{"year": 2007, "month": 1, "date": 13, "utc": true}, {"year": 2008, "month": 1, "date": 13, "utc": true}, {"year": 2009, "month": 1, "date": 13, "utc": true}, {"year": 2010, "month": 1, "date": 13, "utc": true}, {"year": 2011, "month": 1, "date": 13, "utc": true}, {"year": 2012, "month": 1, "date": 13, "utc": true}, {"year": 2013, "month": 1, "date": 13, "utc": true}]}},
            "y": {"field": "v", "type": "quantitative",
              "scale": {"domain": [0, 1.2], "range": [666.05, 417.75], "nice": false, "zero": false},
              "axis": {"orient": "left", "offset": -125.5, "title": null, "labelFont": "Liberation Serif", "labelFontSize": 25, "values": [0, 0.2, 0.4, 0.6, 0.8, 1, 1.2], "labelExpr": "datum.value < 0 ? '-' + format(-datum.value, '~g') : format(datum.value, '~g')"}}
          }
        },
        {
          "data": {"values": [{"name": "Copper"}]},
          "mark": {"type": "text", "font": "Liberation Serif", "fontSize": 25, "fontWeight": "bold", "align": "center", "baseline": "alphabetic", "color": "#000000"},
          "encoding": {
            "x": {"datum": {"year": 2009, "month": 12, "date": 31, "utc": true}, "type": "temporal"},
            "y": {"datum": 1.19, "type": "quantitative"},
            "text": {"field": "name"}
          }
        }
      ]
    },
    {
      "layer": [
        {
          "data": {"name": "lead"},
          "mark": {"type": "line", "color": "#4BACC6", "strokeWidth": 3.5, "strokeJoin": "round"},
          "encoding": {
            "x": {"field": "d", "type": "temporal",
              "scale": {"type": "utc", "domain": [{"year": 2007, "month": 1, "date": 13, "utc": true}, {"year": 2013, "month": 1, "date": 31, "utc": true}], "range": [124.5, 1287.8], "nice": false},
              "axis": {"orient": "bottom", "offset": -702.45, "title": null, "labelFlush": false, "labelFont": "Liberation Serif", "labelFontSize": 25, "labelExpr": "utcFormat(datum.value, '%-m/%-d/%Y')",
                "values": [{"year": 2007, "month": 1, "date": 13, "utc": true}, {"year": 2008, "month": 1, "date": 13, "utc": true}, {"year": 2009, "month": 1, "date": 13, "utc": true}, {"year": 2010, "month": 1, "date": 13, "utc": true}, {"year": 2011, "month": 1, "date": 13, "utc": true}, {"year": 2012, "month": 1, "date": 13, "utc": true}, {"year": 2013, "month": 1, "date": 13, "utc": true}]}},
            "y": {"field": "v", "type": "quantitative",
              "scale": {"domain": [-0.4, 1.2], "range": [1018.75, 745.05], "nice": false, "zero": false},
              "axis": {"orient": "left", "offset": -124.5, "title": null, "labelFont": "Liberation Serif", "labelFontSize": 25, "values": [-0.4, -0.2, 0, 0.2, 0.4, 0.6, 0.8, 1, 1.2], "labelExpr": "datum.value < 0 ? '-' + format(-datum.value, '~g') : format(datum.value, '~g')"}}
          }
        },
        {
          "data": {"values": [{"name": "Lead"}]},
          "mark": {"type": "text", "font": "Liberation Serif", "fontSize": 25, "fontWeight": "bold", "align": "center", "baseline": "alphabetic", "color": "#000000"},
          "encoding": {
            "x": {"datum": {"year": 2009, "month": 12, "date": 16, "utc": true}, "type": "temporal"},
            "y": {"datum": 1.0866, "type": "quantitative"},
            "text": {"field": "name"}
          }
        }
      ]
    },
    {
      "layer": [
        {
          "data": {"name": "nickel"},
          "mark": {"type": "line", "color": "#4F6228", "strokeWidth": 3.5, "strokeJoin": "round"},
          "encoding": {
            "x": {"field": "d", "type": "temporal",
              "scale": {"type": "utc", "domain": [{"year": 2007, "month": 1, "date": 13, "utc": true}, {"year": 2013, "month": 1, "date": 31, "utc": true}], "range": [117.8, 1319.2], "nice": false},
              "axis": {"orient": "bottom", "offset": -390.7, "title": null, "labelFlush": false, "labelFont": "Liberation Serif", "labelFontSize": 25, "labelExpr": "utcFormat(datum.value, '%-m/%-d/%Y')",
                "values": [{"year": 2007, "month": 1, "date": 13, "utc": true}, {"year": 2008, "month": 1, "date": 13, "utc": true}, {"year": 2009, "month": 1, "date": 13, "utc": true}, {"year": 2010, "month": 1, "date": 13, "utc": true}, {"year": 2011, "month": 1, "date": 13, "utc": true}, {"year": 2012, "month": 1, "date": 13, "utc": true}, {"year": 2013, "month": 1, "date": 13, "utc": true}]}},
            "y": {"field": "v", "type": "quantitative",
              "scale": {"domain": [0, 1.2], "range": [1262.05, 1037.05], "nice": false, "zero": false},
              "axis": {"orient": "left", "offset": -117.8, "title": null, "labelFont": "Liberation Serif", "labelFontSize": 25, "values": [0, 0.2, 0.4, 0.6, 0.8, 1, 1.2], "labelExpr": "datum.value < 0 ? '-' + format(-datum.value, '~g') : format(datum.value, '~g')"}}
          }
        },
        {
          "data": {"values": [{"name": "Nickel"}]},
          "mark": {"type": "text", "font": "Liberation Serif", "fontSize": 25, "fontWeight": "bold", "align": "center", "baseline": "alphabetic", "color": "#000000"},
          "encoding": {
            "x": {"datum": {"year": 2009, "month": 12, "date": 22, "utc": true}, "type": "temporal"},
            "y": {"datum": 1.063, "type": "quantitative"},
            "text": {"field": "name"}
          }
        }
      ]
    },
    {
      "layer": [
        {
          "data": {"name": "zinc"},
          "mark": {"type": "line", "color": "#9BBB59", "strokeWidth": 3.5, "strokeJoin": "round"},
          "encoding": {
            "x": {"field": "d", "type": "temporal",
              "scale": {"type": "utc", "domain": [{"year": 2007, "month": 1, "date": 13, "utc": true}, {"year": 2013, "month": 1, "date": 31, "utc": true}], "range": [111.1, 1311.1], "nice": false},
              "axis": {"orient": "bottom", "offset": -108.3, "title": null, "labelFlush": false, "labelFont": "Liberation Serif", "labelFontSize": 25, "labelExpr": "utcFormat(datum.value, '%-m/%-d/%Y')",
                "values": [{"year": 2007, "month": 1, "date": 13, "utc": true}, {"year": 2008, "month": 1, "date": 13, "utc": true}, {"year": 2009, "month": 1, "date": 13, "utc": true}, {"year": 2010, "month": 1, "date": 13, "utc": true}, {"year": 2011, "month": 1, "date": 13, "utc": true}, {"year": 2012, "month": 1, "date": 13, "utc": true}, {"year": 2013, "month": 1, "date": 13, "utc": true}]}},
            "y": {"field": "v", "type": "quantitative",
              "scale": {"domain": [0, 1.5], "range": [1544.45, 1371.05], "nice": false, "zero": false},
              "axis": {"orient": "left", "offset": -111.1, "title": null, "labelFont": "Liberation Serif", "labelFontSize": 25, "values": [0, 0.5, 1, 1.5], "labelExpr": "datum.value < 0 ? '-' + format(-datum.value, '~g') : format(datum.value, '~g')"}}
          }
        },
        {
          "data": {"values": [{"name": "Zinc"}]},
          "mark": {"type": "text", "font": "Liberation Serif", "fontSize": 25, "fontWeight": "bold", "align": "center", "baseline": "alphabetic", "color": "#000000"},
          "encoding": {
            "x": {"datum": {"year": 2010, "month": 1, "date": 6, "utc": true}, "type": "temporal"},
            "y": {"datum": 1.457, "type": "quantitative"},
            "text": {"field": "name"}
          }
        }
      ]
    }
  ],
  "resolve": {"scale": {"x": "independent", "y": "independent"}, "axis": {"x": "independent", "y": "independent"}}
}
